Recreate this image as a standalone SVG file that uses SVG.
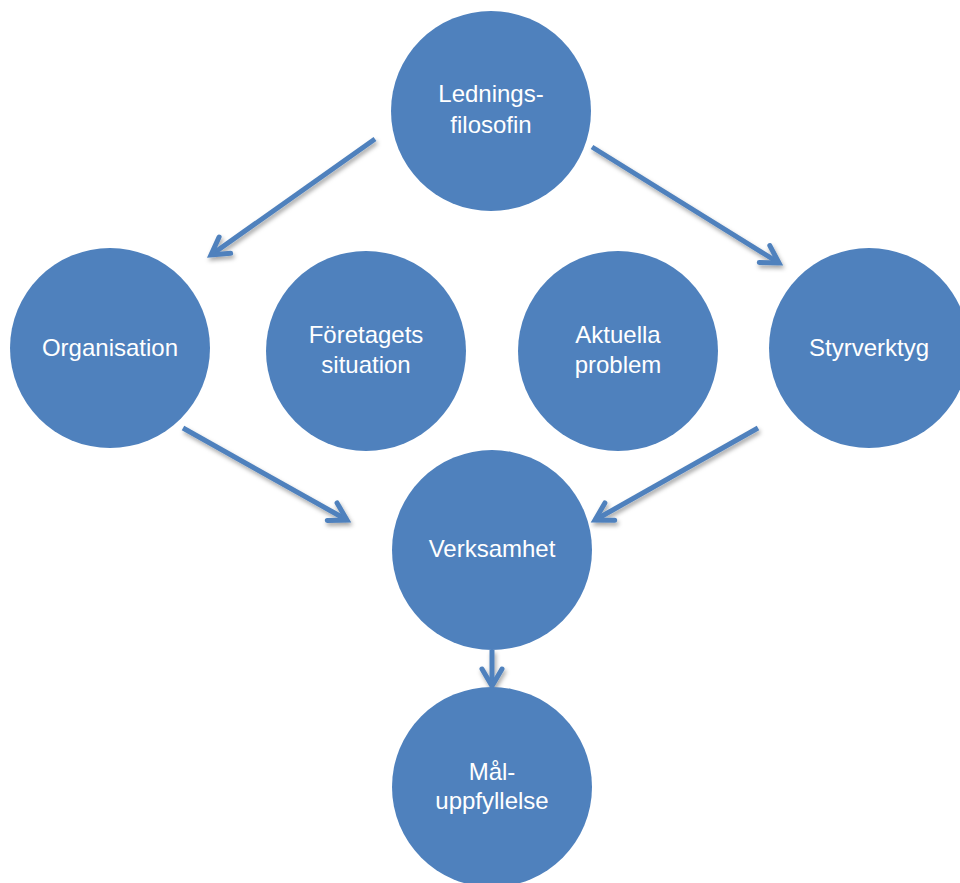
<svg xmlns="http://www.w3.org/2000/svg" width="960" height="883" viewBox="0 0 960 883">
<style>
.node circle{fill:#4F81BD;}
.node text{fill:#FFFFFF;font-family:"Liberation Sans",Arial,sans-serif;font-size:24px;text-anchor:middle;}
.conn line{stroke:#4F81BD;stroke-width:5;fill:none;}
</style>
<defs>
<filter id="sh" x="-20%" y="-20%" width="140%" height="140%">
<feDropShadow dx="1.5" dy="3" stdDeviation="2" flood-color="#000" flood-opacity="0.35"/>
</filter>
<marker id="ah" markerUnits="userSpaceOnUse" markerWidth="30" markerHeight="30" viewBox="-22 -15 30 30" refX="0" refY="0" orient="auto">
<path d="M-17,-10 L0,0 L-17,10" fill="none" stroke="#4F81BD" stroke-width="5" stroke-linecap="round" stroke-linejoin="miter"/>
</marker>
</defs>
<rect width="960" height="883" fill="#FFFFFF"/>
<g id="connectors" class="conn" filter="url(#sh)">
<line x1="375" y1="139" x2="211" y2="255" marker-end="url(#ah)"/>
<line x1="592" y1="147" x2="779" y2="263" marker-end="url(#ah)"/>
<line x1="183" y1="428" x2="347" y2="520" marker-end="url(#ah)"/>
<line x1="758" y1="428" x2="595" y2="520" marker-end="url(#ah)"/>
<line x1="492" y1="650" x2="492" y2="686" marker-end="url(#ah)"/>
</g>
<g id="ledningsfilosofin" class="node">
<circle cx="491" cy="111" r="100"/>
<text x="491" y="102">Lednings-</text>
<text x="491" y="133">filosofin</text>
</g>
<g id="organisation" class="node">
<circle cx="110" cy="348" r="100"/>
<text x="110" y="356">Organisation</text>
</g>
<g id="foretagets-situation" class="node">
<circle cx="366" cy="351" r="100"/>
<text x="366" y="343">Företagets</text>
<text x="366" y="373">situation</text>
</g>
<g id="aktuella-problem" class="node">
<circle cx="618" cy="351" r="100"/>
<text x="618" y="343">Aktuella</text>
<text x="618" y="373">problem</text>
</g>
<g id="styrverktyg" class="node">
<circle cx="869" cy="348" r="100"/>
<text x="869" y="356">Styrverktyg</text>
</g>
<g id="verksamhet" class="node">
<circle cx="492" cy="550" r="100"/>
<text x="492" y="557">Verksamhet</text>
</g>
<g id="maluppfyllelse" class="node">
<circle cx="492" cy="787" r="100"/>
<text x="492" y="780">Mål-</text>
<text x="492" y="809">uppfyllelse</text>
</g>
</svg>
